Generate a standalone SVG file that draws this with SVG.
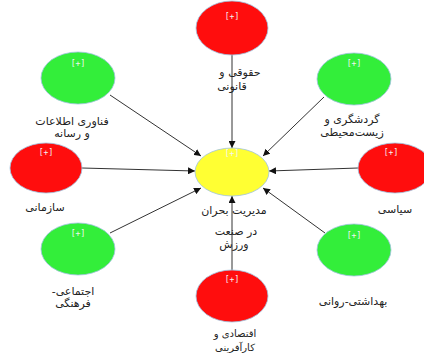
<svg xmlns="http://www.w3.org/2000/svg" width="424" height="356" viewBox="0 0 424 356">
<defs>
<marker id="ah" viewBox="0 0 10 10" refX="10" refY="5" markerWidth="7" markerHeight="7" markerUnits="userSpaceOnUse" orient="auto"><path d="M0,0 L10,5 L0,10 z" fill="#111"/></marker>
<style>
.red{fill:#ff0d0d;stroke:#9fc3e0;stroke-width:0.8}
.green{fill:#33ee3a;stroke:#9fc3e0;stroke-width:0.8}
.yellow{fill:#ffff33;stroke:#9fc3e0;stroke-width:0.8}
.plus{font-family:"DejaVu Sans Mono","Liberation Mono",monospace;font-size:8px;fill:#f4f4f4;text-anchor:middle}
.lbl{font-family:"DejaVu Sans","Noto Sans",sans-serif;font-size:11px;fill:#222;text-anchor:middle;direction:rtl;unicode-bidi:embed}
.sm{font-size:10px}
.conn line{stroke:#333;stroke-width:1;marker-end:url(#ah)}
</style>
</defs>
<rect width="424" height="356" fill="#fff"/>
<g class="conn" id="connectors">
<line x1="232" y1="55" x2="232" y2="148"/>
<line x1="232" y1="270" x2="232" y2="196"/>
<line x1="82" y1="168" x2="195" y2="171"/>
<line x1="358" y1="168" x2="269" y2="171"/>
<line x1="110" y1="95" x2="201" y2="156"/>
<line x1="324" y1="97" x2="263" y2="156"/>
<line x1="110" y1="233" x2="201" y2="188"/>
<line x1="325" y1="233" x2="263" y2="188"/>
</g>
<g id="center"><ellipse class="yellow" cx="232" cy="172" rx="37" ry="24"/><text class="plus" x="232" y="156">[+]</text>
<text class="lbl" x="234" y="214">مدیریت بحران</text><text class="lbl" x="236" y="235">در صنعت</text><text class="lbl" x="234" y="248">ورزش</text></g>
<g id="n-top"><ellipse class="red" cx="232" cy="28" rx="36" ry="27"/><text class="plus" x="232" y="19">[+]</text>
<text class="lbl" x="240" y="76">حقوقی و</text><text class="lbl" x="232" y="90">قانونی</text></g>
<g id="n-topright"><ellipse class="green" cx="354" cy="79" rx="37" ry="26"/><text class="plus" x="354" y="66">[+]</text>
<text class="lbl" x="352" y="123">گردشگری و</text><text class="lbl" x="352" y="136">زیست‌محیطی</text></g>
<g id="n-topleft"><ellipse class="green" cx="78" cy="78" rx="37" ry="26"/><text class="plus" x="78" y="66">[+]</text>
<text class="lbl" x="72" y="125">فناوری اطلاعات</text><text class="lbl" x="72" y="137">و رسانه</text></g>
<g id="n-left"><ellipse class="red" cx="46" cy="168" rx="36" ry="25"/><text class="plus" x="46" y="155">[+]</text>
<text class="lbl" x="45" y="211">سازمانی</text></g>
<g id="n-right"><ellipse class="red" cx="395" cy="168" rx="37" ry="25"/><text class="plus" x="391" y="155">[+]</text>
<text class="lbl" x="395" y="213">سیاسی</text></g>
<g id="n-bottomleft"><ellipse class="green" cx="78" cy="249" rx="37" ry="26"/><text class="plus" x="78" y="236">[+]</text>
<text class="lbl" x="73" y="295">اجتماعی-</text><text class="lbl" x="73" y="307">فرهنگی</text></g>
<g id="n-bottomright"><ellipse class="green" cx="354" cy="250" rx="37" ry="26"/><text class="plus" x="354" y="238">[+]</text>
<text class="lbl" x="353" y="305">بهداشتی-روانی</text></g>
<g id="n-bottom"><ellipse class="red" cx="232" cy="296" rx="36" ry="26"/><text class="plus" x="232" y="282">[+]</text>
<text class="lbl sm" x="235" y="337">اقتصادی و</text><text class="lbl sm" x="235" y="351">کارآفرینی</text></g>
</svg>
